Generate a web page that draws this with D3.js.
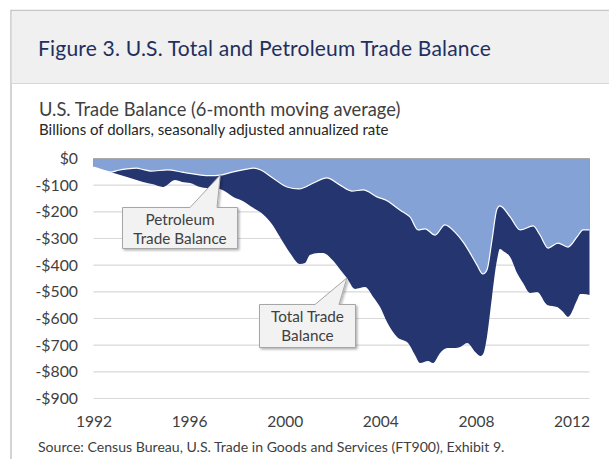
<!DOCTYPE html>
<html>
<head>
<meta charset="utf-8">
<script src="https://cdn.jsdelivr.net/npm/d3@7"></script>
<style>
body { margin: 0; background: #fff; }
text { font-family: Lato, "Open Sans", sans-serif; }
</style>
</head>
<body>
<div id="chart"></div>
<script>
var w = 609, h = 459;

// petroleum trade balance, billions
var petroleumDates = [1992.0, 1992.35, 1992.7, 1993.05, 1993.4, 1993.8, 1994.1, 1994.4, 1995.1, 1995.7,
  1996.1, 1996.5, 1996.9, 1997.3, 1997.8, 1998.3, 1998.7, 1999.0, 1999.5, 2000.1,
  2000.6, 2001.2, 2001.76, 2002.3, 2002.8, 2003.28, 2003.86, 2004.3, 2004.7, 2004.95,
  2005.24, 2005.58, 2005.87, 2006.29, 2006.7, 2007.12, 2007.46, 2007.75, 2008.04, 2008.29,
  2008.46, 2008.67, 2008.88, 2009.0, 2009.43, 2009.85, 2010.39, 2010.68, 2011.02, 2011.43,
  2011.85, 2012.23, 2012.48, 2012.75];
var petroleumValues = [-32, -42, -51, -44, -39, -36, -42, -47, -43, -51,
  -57, -62, -64, -62, -51, -42, -36, -43, -73, -107,
  -114, -92, -73, -99, -122, -118, -144, -159, -186, -201,
  -219, -268, -264, -287, -249, -276, -313, -354, -399, -433,
  -418, -306, -189, -178, -219, -268, -253, -287, -336, -317,
  -332, -294, -268, -268];

// total trade balance, billions
var totalDates = [1992.0, 1992.7, 1993.4, 1994.07, 1994.5, 1994.9, 1995.08, 1995.41, 1995.7, 1996.04,
  1996.46, 1996.75, 1997.1, 1997.4, 1997.85, 1998.26, 1998.68, 1999.1, 1999.5, 1999.8,
  2000.22, 2000.64, 2000.85, 2001.05, 2001.4, 2001.6, 2002.0, 2002.3, 2002.6, 2002.94,
  2003.36, 2003.7, 2003.99, 2004.3, 2004.7, 2005.16, 2005.45, 2005.66, 2006.0, 2006.2,
  2006.5, 2006.8, 2007.13, 2007.34, 2007.63, 2007.97, 2008.18, 2008.3, 2008.46, 2008.67,
  2008.88, 2009.0, 2009.2, 2009.43, 2009.72, 2009.97, 2010.26, 2010.56, 2010.98, 2011.4,
  2011.65, 2011.85, 2012.23, 2012.36, 2012.48, 2012.75];
var totalValues = [-32, -51, -69, -88, -97, -107, -99, -81, -88, -92,
  -107, -111, -112, -118, -144, -160, -185, -210, -250, -294,
  -354, -396, -392, -362, -354, -354, -381, -414, -448, -489,
  -482, -519, -557, -617, -669, -692, -737, -767, -759, -767,
  -729, -711, -711, -707, -692, -726, -741, -733, -669, -519,
  -381, -339, -351, -369, -429, -467, -504, -501, -549, -557,
  -576, -594, -531, -508, -508, -512];

var yTicks = [0, -100, -200, -300, -400, -500, -600, -700, -800, -900];
var yearTicks = [1992, 1996, 2000, 2004, 2008, 2012];

var petroleum = petroleumDates.map(function (d, i) { return {t: d, v: petroleumValues[i]}; });
var total = totalDates.map(function (d, i) { return {t: d, v: totalValues[i]}; });

var svg = d3.select('#chart').append('svg')
    .attr('width', w)
    .attr('height', h);

var defs = svg.append('defs');
var f = defs.append('filter').attr('id', 'shadow')
    .attr('x', '-10%').attr('y', '-10%').attr('width', '130%').attr('height', '130%');
f.append('feDropShadow').attr('dx', 1.5).attr('dy', 1.5)
    .attr('stdDeviation', 1).attr('flood-color', '#000').attr('flood-opacity', 0.3);

// frame + header
svg.append('rect').attr('x', 11).attr('y', 10.5).attr('width', 640).attr('height', 480)
    .attr('fill', '#fff').attr('stroke', '#c6c6c6').attr('stroke-width', 1.5);
svg.append('rect').attr('x', 11.75).attr('y', 11.25).attr('width', 640).attr('height', 72)
    .attr('fill', '#f0f0f0');
svg.append('line').attr('x1', 11.75).attr('x2', 640).attr('y1', 83.5).attr('y2', 83.5)
    .attr('stroke', '#d8d8d8').attr('stroke-width', 1.2);

svg.append('text').attr('x', 38).attr('y', 56)
    .attr('font-size', 21).attr('letter-spacing', 0.2).attr('fill', '#1f2f5e')
    .text('Figure 3. U.S. Total and Petroleum Trade Balance');

svg.append('text').attr('x', 39).attr('y', 115.5)
    .attr('font-size', 18.3).attr('fill', '#404040')
    .text('U.S. Trade Balance (6-month moving average)');
svg.append('text').attr('x', 39).attr('y', 135)
    .attr('font-size', 15).attr('fill', '#262626')
    .text('Billions of dollars, seasonally adjusted annualized rate');

var x = d3.scaleLinear().domain([1992, 2012.75]).range([93.5, 589.5]);
var y = d3.scaleLinear().domain([-900, 0]).range([398.5, 158.5]);

// gridlines
svg.append('g').selectAll('line')
    .data(yTicks.filter(function (d) { return d !== 0; }))
    .enter().append('line')
    .attr('x1', x.range()[0]).attr('x2', x.range()[1])
    .attr('y1', function (d) { return y(d); })
    .attr('y2', function (d) { return y(d); })
    .attr('stroke', '#d9d9d9').attr('stroke-width', 1.2);

var curve = d3.curveMonotoneX;

svg.append('path').datum(total)
    .attr('fill', '#24356f')
    .attr('d', d3.area().curve(curve)
        .x(function (d) { return x(d.t); })
        .y0(y(0))
        .y1(function (d) { return y(d.v); }));

svg.append('path').datum(petroleum)
    .attr('fill', '#84a2d6')
    .attr('d', d3.area().curve(curve)
        .x(function (d) { return x(d.t); })
        .y0(y(0))
        .y1(function (d) { return y(d.v); }));

svg.append('path').datum(petroleum)
    .attr('fill', 'none').attr('stroke', '#fff').attr('stroke-width', 1.2)
    .attr('d', d3.line().curve(curve)
        .x(function (d) { return x(d.t); })
        .y(function (d) { return y(d.v); }));

// zero line
svg.append('line')
    .attr('x1', x.range()[0]).attr('x2', x.range()[1])
    .attr('y1', y(0)).attr('y2', y(0))
    .attr('stroke', '#a8a8a8').attr('stroke-width', 1.2);

// y axis labels
var yAxis = d3.axisLeft(y).tickValues(yTicks).tickSize(0).tickPadding(0)
    .tickFormat(function (d) { return d < 0 ? '-$' + (-d) : '$' + d; });
var gy = svg.append('g').attr('transform', 'translate(78,0)').call(yAxis);
gy.select('.domain').remove();
gy.selectAll('text').attr('font-size', 15.8).attr('fill', '#404040')
    .attr('font-family', 'Lato, "Open Sans", sans-serif');

// x axis labels
var xAxis = d3.axisBottom(x).tickValues(yearTicks).tickSize(0).tickPadding(0)
    .tickFormat(d3.format('d'));
var gx = svg.append('g').attr('transform', 'translate(0,416)').call(xAxis);
gx.select('.domain').remove();
gx.selectAll('text').attr('font-size', 15.5).attr('fill', '#404040')
    .attr('font-family', 'Lato, "Open Sans", sans-serif');

// callouts
function callout(box, base, tip, lines) {
    var p = [
        [box.x, box.y], [base[0], box.y], [tip[0], tip[1]], [base[1], box.y],
        [box.x + box.w, box.y], [box.x + box.w, box.y + box.h], [box.x, box.y + box.h]
    ];
    svg.append('path')
        .attr('d', 'M' + p.join('L') + 'Z')
        .attr('fill', '#f2f2f2').attr('stroke', '#a6a6a6').attr('stroke-width', 1)
        .attr('filter', 'url(#shadow)');
    svg.append('text')
        .attr('text-anchor', 'middle').attr('font-size', 15.3).attr('fill', '#404040')
        .selectAll('tspan').data(lines).enter().append('tspan')
        .attr('x', box.x + box.w / 2)
        .attr('y', function (d, i) { return box.y + 17 + i * 19.5; })
        .text(function (d) { return d; });
}

callout({x: 122.5, y: 207.5, w: 115, h: 41}, [190, 217],
    [x(1997.3), y(-62)], ['Petroleum', 'Trade Balance']);
callout({x: 259.5, y: 304.5, w: 96, h: 43}, [315, 339],
    [x(2002.6), y(-448)], ['Total Trade', 'Balance']);

svg.append('text').attr('x', 38).attr('y', 452)
    .attr('font-size', 14.1).attr('fill', '#404040')
    .text('Source: Census Bureau, U.S. Trade in Goods and Services (FT900), Exhibit 9.');
</script>
</body>
</html>
